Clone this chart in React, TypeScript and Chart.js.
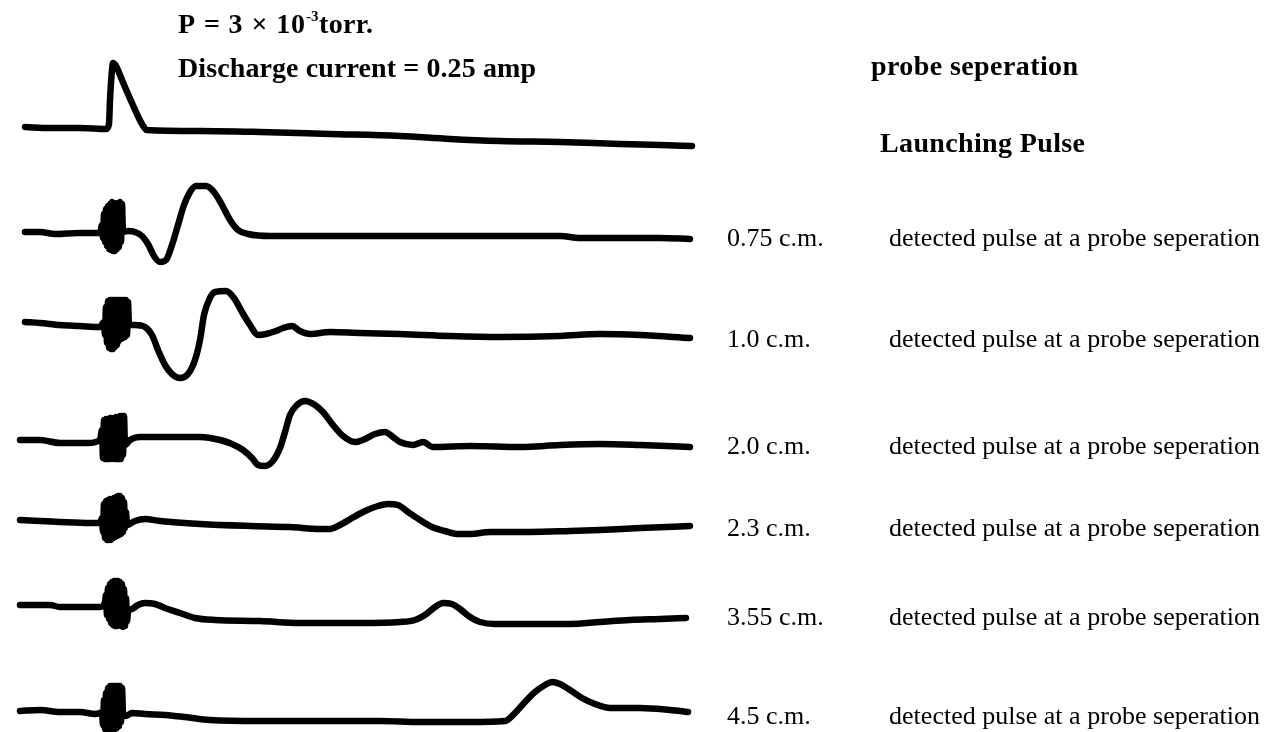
import React, { useEffect, useRef } from "react";
import { Chart, registerables } from "chart.js";

Chart.register(...registerables);

// time axis (arbitrary units, 0.1 per pixel of the original trace)
const TIME_MIN = 0;
const TIME_MAX = 126.7;
// amplitude axis (arbitrary units)
const AMP_MIN = 0;
const AMP_MAX = 73.2;

// baseline offset of each trace (stacked oscillograms)
const traceOffsets = [60.4, 50.0, 40.7, 29.2, 21.0, 12.5, 2.0];

const separations = ["0.75 c.m.", "1.0 c.m.", "2.0 c.m.", "2.3 c.m.", "3.55 c.m.", "4.5 c.m."];
const detectedLabel = "detected pulse at a probe seperation";
const launchLabel = "Launching Pulse";
const headerLabel = "probe seperation";
const pressurePrefix = "P = 3 \u00d7 10";
const pressureExp = "-3";
const pressureSuffix = "torr.";
const currentLabel = "Discharge current = 0.25 amp";

// [time, amplitude] pairs
const launchingPulse = [
  [2.5, 0.1], [5.0, 0], [8.0, 0], [10.6, -0.1], [10.9, 0.4], [11.0, 2.8], [11.2, 5.8], [11.3, 6.5],
  [11.6, 6.2], [12.2, 4.8], [13.2, 2.5], [14.2, 0.4], [14.7, -0.2], [20.0, -0.3], [26.0, -0.4],
  [33.0, -0.6], [40.0, -0.8], [45.0, -1.1], [50.0, -1.3], [56.0, -1.4], [62.0, -1.6], [66.0, -1.7], [69.2, -1.8],
];

const pulse075 = [
  [2.5, 0], [4.0, 0], [5.5, -0.2], [8.0, -0.1], [10.0, -0.1],
  [10.2, 0.7], [10.3, -0.6], [10.4, 1.8], [10.5, -1.0], [10.6, 2.3], [10.7, -1.4], [10.8, 2.6], [10.9, -1.7],
  [11.0, 2.8], [11.1, -1.8], [11.2, 3.0], [11.3, -1.9], [11.4, 2.9], [11.5, -1.9], [11.6, 2.8], [11.7, -1.7],
  [11.8, 2.9], [11.9, -1.5], [12.0, 3.0], [12.1, -1.0], [12.2, 2.8], [12.3, 0],
  [12.8, 0.1], [13.5, 0], [14.2, -0.4], [14.8, -1.2], [15.4, -2.4], [16.0, -3.0], [16.6, -2.8], [17.2, -1.3],
  [17.8, 0.7], [18.4, 2.7], [19.0, 4.0], [19.6, 4.6], [20.6, 4.6], [21.4, 4.0], [22.2, 2.7], [23.0, 1.2],
  [23.8, 0.2], [24.8, -0.2], [27.0, -0.4], [32.0, -0.4], [40.0, -0.4], [48.0, -0.4], [56.0, -0.4],
  [58.0, -0.6], [62.0, -0.6], [66.0, -0.6], [69.0, -0.7],
];

const pulse10 = [
  [2.5, 0.3], [4.0, 0.2], [6.0, 0], [8.0, -0.1], [10.0, -0.2],
  [10.4, 0.3], [10.5, -1.0], [10.6, 1.8], [10.7, -1.8], [10.8, 2.4], [10.9, -2.3], [11.0, 2.5], [11.1, -2.4],
  [11.2, 2.5], [11.3, -2.4], [11.4, 2.5], [11.5, -2.2], [11.6, 2.5], [11.7, -2.0], [11.8, 2.5], [11.9, -1.6],
  [12.0, 2.5], [12.1, -1.4], [12.2, 2.5], [12.3, -1.3], [12.4, 2.5], [12.5, -1.2], [12.6, 2.5], [12.7, -1.0],
  [12.8, 2.3], [12.9, 0],
  [13.5, 0], [14.5, -0.2], [15.2, -1.0], [15.8, -2.5], [16.5, -4.0], [17.2, -4.9], [18.0, -5.3], [18.8, -4.9],
  [19.5, -3.5], [20.0, -1.5], [20.4, 1.0], [20.9, 2.5], [21.5, 3.3], [22.6, 3.4], [23.4, 2.7], [24.2, 1.3],
  [25.0, 0], [25.8, -1.0], [26.6, -0.9], [27.6, -0.6], [28.3, -0.3], [29.2, -0.1], [30.0, -0.6], [31.0, -0.9],
  [33.0, -0.7], [36.0, -0.8], [40.0, -0.9], [45.0, -1.1], [50.0, -1.2], [56.0, -1.1], [60.0, -0.9],
  [64.0, -1.0], [69.0, -1.3],
];

const pulse20 = [
  [2.0, 0], [4.0, 0], [6.0, -0.3], [8.8, -0.3], [10.0, 0],
  [10.2, 1.0], [10.3, -1.8], [10.4, 2.0], [10.5, -1.9], [10.6, 2.1], [10.7, -1.9], [10.8, 2.1], [10.9, -1.9],
  [11.0, 2.2], [11.1, -1.9], [11.2, 2.2], [11.3, -1.9], [11.4, 2.2], [11.5, -1.9], [11.6, 2.3], [11.7, -1.9],
  [11.8, 2.3], [11.9, -1.9], [12.0, 2.4], [12.1, -1.9], [12.2, 2.4], [12.3, -1.5], [12.4, 2.4], [12.5, -0.5],
  [13.0, 0], [14.0, 0.3], [16.0, 0.3], [20.0, 0.3], [22.0, 0], [23.2, -0.4], [24.3, -1.0], [25.2, -1.8],
  [25.8, -2.5], [26.5, -2.6], [27.2, -2.2], [28.0, -0.8], [28.5, 0.8], [29.0, 2.5], [29.7, 3.5], [30.5, 3.9],
  [31.5, 3.5], [32.3, 2.8], [33.3, 1.5], [34.3, 0.4], [35.5, -0.2], [36.5, 0.1], [37.5, 0.6], [38.5, 0.8],
  [39.3, 0.3], [40.0, -0.2], [41.3, -0.5], [42.3, -0.2], [43.3, -0.7], [47.0, -0.6],
  [52.0, -0.7], [56.0, -0.5], [60.0, -0.4], [64.0, -0.5], [69.0, -0.7],
];

const pulse23 = [
  [2.0, 0.2], [4.0, 0.1], [6.0, 0], [9.0, -0.1], [10.0, -0.1],
  [10.2, 0.4], [10.3, -1.0], [10.4, 1.8], [10.5, -1.6], [10.6, 2.1], [10.7, -1.8], [10.8, 2.2], [10.9, -1.8],
  [11.0, 2.3], [11.1, -1.8], [11.2, 2.3], [11.3, -1.6], [11.4, 2.4], [11.5, -1.5], [11.6, 2.5], [11.7, -1.4],
  [11.8, 2.6], [11.9, -1.3], [12.0, 2.6], [12.1, -1.2], [12.2, 2.4], [12.3, -1.0], [12.4, 2.0], [12.5, -0.6],
  [12.6, 1.0], [12.7, -0.3],
  [13.5, 0.1], [14.5, 0.3], [16.0, 0.1], [20.0, -0.2], [25.0, -0.4], [29.0, -0.5], [32.0, -0.7], [33.0, -0.7],
  [34.0, -0.3], [35.2, 0.4], [36.5, 1.1], [37.8, 1.6], [38.8, 1.8], [39.8, 1.7], [40.8, 1.0], [42.0, 0.2],
  [43.2, -0.5], [44.5, -0.9], [45.8, -1.2], [47.0, -1.2], [49.0, -1.0], [53.0, -1.0], [57.0, -0.9],
  [60.0, -0.8], [64.0, -0.6], [69.0, -0.4],
];

const pulse355 = [
  [2.0, 0.2], [5.0, 0.2], [6.0, 0], [10.0, 0],
  [10.5, 0.5], [10.6, 1.2], [10.7, -0.8], [10.8, 1.9], [10.9, -1.2], [11.0, 2.3], [11.1, -1.6], [11.2, 2.5],
  [11.3, -1.8], [11.4, 2.6], [11.5, -1.9], [11.6, 2.6], [11.7, -1.9], [11.8, 2.6], [11.9, -1.8], [12.0, 2.5],
  [12.1, -1.9], [12.2, 2.3], [12.3, -2.0], [12.4, 1.8], [12.5, -1.9], [12.6, 0.9], [12.7, -1.4], [12.8, -0.5],
  [13.2, -0.2], [13.8, 0.2], [14.5, 0.4], [15.5, 0.3], [16.5, -0.1], [18.0, -0.6], [19.5, -1.1], [21.5, -1.3],
  [26.0, -1.4], [30.0, -1.6], [36.0, -1.6], [40.0, -1.5], [41.5, -1.3], [42.5, -0.8], [43.5, 0.0],
  [44.3, 0.4], [45.2, 0.3], [46.0, -0.2], [47.0, -1.0], [48.0, -1.5], [49.5, -1.7], [53.0, -1.7],
  [57.0, -1.7], [60.0, -1.5], [63.0, -1.3], [66.0, -1.2], [68.6, -1.1],
];

const pulse45 = [
  [2.0, 0.1], [4.0, 0.2], [6.0, 0], [8.0, 0], [9.5, -0.2], [10.0, -0.1],
  [10.2, 0], [10.3, -1.3], [10.4, 1.2], [10.5, -1.7], [10.6, 1.9], [10.7, -2.0], [10.8, 2.4], [10.9, -2.0],
  [11.0, 2.6], [11.1, -2.0], [11.2, 2.6], [11.3, -1.8], [11.4, 2.6], [11.5, -1.7], [11.6, 2.6], [11.7, -1.6],
  [11.8, 2.6], [11.9, -1.4], [12.0, 2.6], [12.1, -1.0], [12.2, 2.4], [12.3, 0],
  [12.6, -0.4], [13.2, -0.1], [14.5, -0.2], [16.5, -0.3], [18.5, -0.5], [21.0, -0.8], [26.0, -0.9],
  [32.0, -0.9], [38.0, -0.9], [42.0, -1.0], [47.0, -1.0], [50.5, -0.9], [51.5, -0.1], [52.5, 1.0],
  [53.5, 2.0], [54.5, 2.7], [55.2, 3.0], [56.0, 2.8], [57.0, 2.2], [58.2, 1.4], [59.5, 0.8], [61.0, 0.4],
  [64.0, 0.4], [67.0, 0.2], [68.8, 0],
];

const traces = [launchingPulse, pulse075, pulse10, pulse20, pulse23, pulse355, pulse45];

const SERIF = '"Liberation Serif", "DejaVu Serif", serif';

const textPlugin = {
  id: "figureText",
  afterDraw(chart: any) {
    const ctx = chart.ctx as CanvasRenderingContext2D;
    ctx.save();
    ctx.fillStyle = "#000";
    ctx.textBaseline = "alphabetic";
    ctx.textAlign = "left";

    const fit = (txt: string, x: number, y: number, font: string, width: number) => {
      ctx.font = font;
      (ctx as any).letterSpacing = "0px";
      const w0 = ctx.measureText(txt).width;
      const sp = txt.length > 1 ? (width - w0) / (txt.length - 1) : 0;
      (ctx as any).letterSpacing = `${sp.toFixed(2)}px`;
      ctx.fillText(txt, x, y);
      (ctx as any).letterSpacing = "0px";
    };

    const bold = `bold 28px ${SERIF}`;
    const reg = `26px ${SERIF}`;

    // header: pressure with superscript exponent
    fit(pressurePrefix, 178, 33, bold, 127);
    ctx.font = `bold 15px ${SERIF}`;
    ctx.fillText(pressureExp, 306, 21);
    fit(pressureSuffix, 319, 33, bold, 54);
    fit(currentLabel, 178, 77, bold, 358);

    fit(headerLabel, 871, 75, bold, 207);
    fit(launchLabel, 880, 152, bold, 205);

    const baselines = [246, 347, 454, 536, 625, 724];
    separations.forEach((s, i) => {
      ctx.font = reg;
      ctx.fillText(s, 727, baselines[i]);
      fit(detectedLabel, 889, baselines[i], reg, 371);
    });
    ctx.restore();
  },
};

export default function App() {
  const ref = useRef<HTMLCanvasElement | null>(null);
  useEffect(() => {
    if (!ref.current) return;
    const datasets = traces.map((pts, i) => ({
      label: i === 0 ? launchLabel : separations[i - 1],
      data: pts.map(([t, a]) => ({ x: t, y: traceOffsets[i] + a })),
      borderColor: "#000",
      backgroundColor: "#000",
      borderWidth: 6.5,
      pointRadius: 0,
      borderJoinStyle: "round" as const,
      borderCapStyle: "round" as const,
      cubicInterpolationMode: "monotone" as const,
      fill: false,
    }));
    const chart = new Chart(ref.current, {
      type: "line",
      data: { datasets },
      options: {
        responsive: false,
        animation: false,
        layout: { padding: 0 },
        plugins: { legend: { display: false }, tooltip: { enabled: false } },
        scales: {
          x: { type: "linear", min: TIME_MIN, max: TIME_MAX, display: false },
          y: { type: "linear", min: AMP_MIN, max: AMP_MAX, display: false },
        },
      },
      plugins: [textPlugin],
    });
    return () => chart.destroy();
  }, []);
  return (
    <div style={{ position: "fixed", left: 0, top: 0, width: 1267, height: 732, background: "#fff" }}>
      <canvas ref={ref} width={1267} height={732} style={{ display: "block" }} />
    </div>
  );
}
